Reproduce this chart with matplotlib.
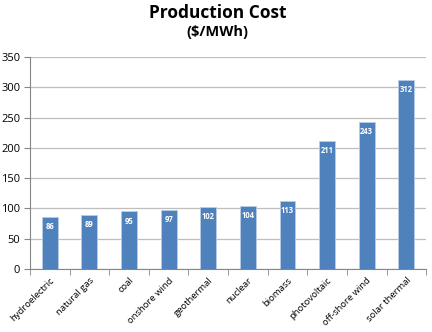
import numpy as np
import matplotlib
matplotlib.use("Agg")
import matplotlib.pyplot as plt

categories = ["hydroelectric", "natural gas", "coal", "onshore wind", "geothermal",
              "nuclear", "biomass", "photovoltaic", "off-shore wind", "solar thermal"]
costs = [86, 89, 95, 97, 102, 104, 113, 211, 243, 312]
yticks = [0, 50, 100, 150, 200, 250, 300, 350]

plt.rcParams['font.family'] = ['Open Sans', 'DejaVu Sans']

fig = plt.figure(figsize=(4.32, 3.32), dpi=100)
ax = fig.add_axes([0.0694, 0.19, 0.917, 0.638])

x = np.arange(len(categories))
ax.bar(x, costs, width=0.4, color="#4F81BD", edgecolor="#B9CDE5", linewidth=0.6, zorder=3)

# value labels inside the top of each bar
for xi, v in zip(x, costs):
    ax.text(xi, v - 16, str(v), ha="center", va="center", color="white",
            fontsize=5.5, fontweight="bold", zorder=4)

ax.set_xlim(-0.5, len(categories) - 0.5)
ax.set_ylim(0, 350)
ax.set_yticks(yticks)
ax.tick_params(axis="y", labelsize=8, length=4, color="#868686", pad=3)
ax.grid(axis="y", color="#BFBFBF", linewidth=0.9, zorder=0)

ax.set_xticks(x)
ax.set_xticklabels(categories, rotation=45, ha="right", rotation_mode="anchor", fontsize=6.8)
ax.tick_params(axis="x", which="major", length=0, pad=5)
ax.set_xticks(np.arange(-0.5, len(categories)), minor=True)
ax.tick_params(axis="x", which="minor", length=4, color="#868686")

for s in ["top", "right"]:
    ax.spines[s].set_visible(False)
ax.spines["left"].set_color("#868686")
ax.spines["bottom"].set_color("#868686")

fig.text(0.503, 0.961, "Production Cost", ha="center", va="center", fontsize=12.5, fontweight="bold")
fig.text(0.503, 0.904, "($/MWh)", ha="center", va="center", fontsize=10.5, fontweight="bold")

fig.savefig("out.png", dpi=100)
